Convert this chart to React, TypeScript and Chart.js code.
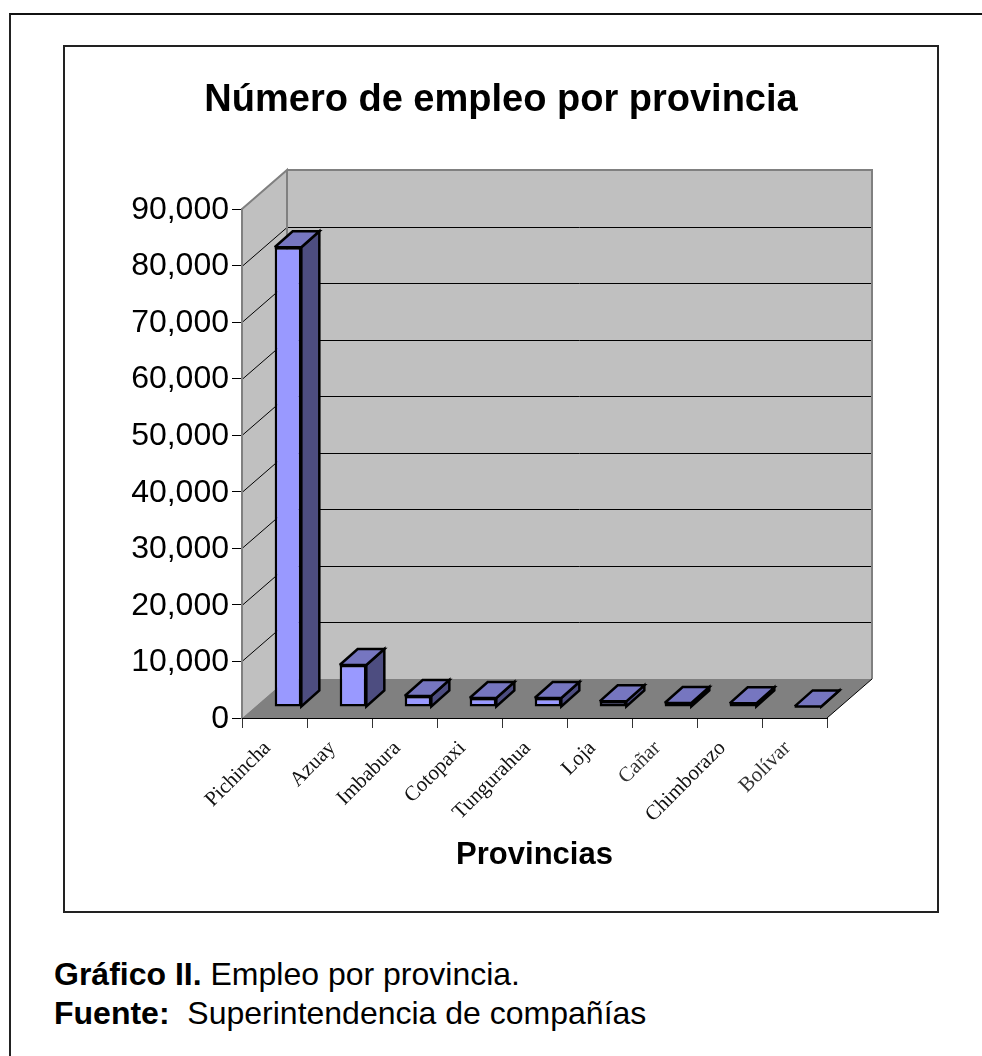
import React, { useEffect, useRef } from "react";
import { Chart, registerables } from "chart.js";

Chart.register(...registerables);

const provinces = ["Pichincha", "Azuay", "Imbabura", "Cotopaxi", "Tungurahua", "Loja", "Cañar", "Chimborazo", "Bolívar"];
const employment = [81300, 7430, 1950, 1600, 1600, 1000, 700, 650, 100];
const labelColors = ["#111", "#111", "#111", "#111", "#111", "#111", "#333", "#111", "#333"];

const chartTitle = "Número de empleo por provincia";
const xTitle = "Provincias";

const SANS = '"Liberation Sans", Arial, sans-serif';
const SERIF = '"Liberation Serif", "Times New Roman", serif';

const wallDepth = { x: 45, y: 39 };
const barShift = { x: 13.5, y: 11 };
const barDepth = { x: 18, y: 16 };

const poly = (ctx: CanvasRenderingContext2D, pts: number[][], fill: string) => {
  ctx.beginPath();
  pts.forEach(([x, y], i) => (i ? ctx.lineTo(x, y) : ctx.moveTo(x, y)));
  ctx.closePath();
  ctx.fillStyle = fill;
  ctx.fill();
};

const line = (ctx: CanvasRenderingContext2D, pts: number[][], color: string, w: number) => {
  ctx.beginPath();
  pts.forEach(([x, y], i) => (i ? ctx.lineTo(x, y) : ctx.moveTo(x, y)));
  ctx.strokeStyle = color;
  ctx.lineWidth = w;
  ctx.stroke();
};

const box3d = {
  id: "box3d",
  beforeDraw(chart: any) {
    const { ctx, chartArea: a, scales } = chart;
    const dx = wallDepth.x;
    const dy = wallDepth.y;
    ctx.save();
    poly(ctx, [[a.left, a.top], [a.left + dx, a.top - dy], [a.left + dx, a.bottom - dy], [a.left, a.bottom]], "#C0C0C0");
    poly(ctx, [[a.left + dx, a.top - dy], [a.right + dx, a.top - dy], [a.right + dx, a.bottom - dy], [a.left + dx, a.bottom - dy]], "#C0C0C0");
    poly(ctx, [[a.left, a.bottom], [a.right, a.bottom], [a.right + dx, a.bottom - dy], [a.left + dx, a.bottom - dy]], "#808080");
    scales.y.ticks.forEach((t: any) => {
      if (t.value === scales.y.min || t.value === scales.y.max) return;
      const y = Math.round(scales.y.getPixelForValue(t.value)) + 0.5;
      line(ctx, [[a.left, y], [a.left + dx, y - dy], [a.right + dx, y - dy]], "#000", 1);
    });
    line(ctx, [[a.left, a.top], [a.left + dx, a.top - dy], [a.left + dx, a.bottom - dy]], "#808080", 2);
    line(ctx, [[a.left + dx, a.top - dy], [a.right + dx, a.top - dy], [a.right + dx, a.bottom - dy]], "#808080", 2);
    line(ctx, [[a.right, a.bottom], [a.right + dx, a.bottom - dy]], "#000", 1);
    ctx.restore();
  },
  beforeDatasetDraw(chart: any, args: any) {
    const { ctx } = chart;
    ctx.save();
    ctx.translate(barShift.x, -barShift.y);
    ctx.lineJoin = "miter";
    args.meta.data.forEach((el: any) => {
      const l = el.x - el.width / 2;
      const r = el.x + el.width / 2;
      const t = el.y;
      const b = el.base;
      const dx = barDepth.x;
      const dy = barDepth.y;
      const side = [[r, t], [r + dx, t - dy], [r + dx, b - dy], [r, b]];
      const top = [[l, t], [l + dx, t - dy], [r + dx, t - dy], [r, t]];
      poly(ctx, side, "#4D4D80");
      line(ctx, [...side, side[0]], "#000", 2.5);
      poly(ctx, top, "#7676C0");
      line(ctx, [...top, top[0]], "#000", 2.5);
    });
  },
  afterDatasetDraw(chart: any) {
    chart.ctx.restore();
  },
};

export default function App() {
  const ref = useRef<HTMLCanvasElement>(null);
  useEffect(() => {
    document.body.style.margin = "0";
    document.documentElement.style.overflow = "hidden";
    const chart = new Chart(ref.current!, {
      type: "bar",
      plugins: [box3d],
      data: {
        labels: provinces,
        datasets: [
          {
            data: employment,
            yAxisID: "y",
            backgroundColor: "#9999FF",
            borderColor: "#000",
            borderWidth: 2.5,
            borderSkipped: false,
            barPercentage: 0.41,
            categoryPercentage: 1,
            clip: false,
          } as any,
        ],
      },
      options: {
        animation: false,
        responsive: false,
        layout: { padding: 0 },
        plugins: {
          legend: { display: false },
          tooltip: { enabled: false },
          title: {
            display: true,
            text: chartTitle,
            color: "#000",
            font: { family: SANS, size: 38, weight: "bold" },
            padding: { top: 33, bottom: 85.4 },
          },
        },
        scales: {
          y: {
            min: 0,
            max: 90000,
            afterFit: (s: any) => {
              s.width = 179;
            },
            border: { color: "#808080", width: 2 },
            grid: { drawOnChartArea: false, drawTicks: true, tickLength: 10, tickColor: "#000" },
            ticks: {
              stepSize: 10000,
              color: "#000",
              padding: 3,
              labelOffset: 1,
              font: { family: SANS, size: 32 },
              callback: (v: any) => Number(v).toLocaleString("en-US"),
            },
          },
          spacer: {
            position: "right",
            min: 0,
            max: 1,
            afterFit: (s: any) => {
              s.width = 112;
            },
            border: { display: false },
            grid: { display: false },
            ticks: { display: false },
          },
          x: {
            afterFit: (s: any) => {
              s.height = 195;
            },
            border: { color: "#000", width: 1 },
            grid: { drawOnChartArea: false, drawTicks: true, tickLength: 10, tickColor: "#333" },
            ticks: {
              autoSkip: false,
              minRotation: 45,
              maxRotation: 45,
              color: (c: any) => labelColors[c.index],
              padding: 8,
              labelOffset: -7,
              font: { family: SERIF, size: 21 },
            },
            title: {
              display: true,
              text: xTitle,
              color: "#000",
              font: { family: SANS, size: 31, weight: "bold" },
              padding: { top: 0, bottom: 39 },
            },
          },
        },
      },
    } as any);
    return () => chart.destroy();
  }, []);

  return (
    <div style={{ fontFamily: SANS }}>
      <div
        style={{
          position: "absolute",
          left: 9,
          top: 13,
          right: 0,
          height: 1043,
          boxSizing: "border-box",
          borderLeft: "2px solid #222",
          borderTop: "2px solid #111",
        }}
      />
      <canvas
        ref={ref}
        width={876}
        height={868}
        style={{ position: "absolute", left: 63, top: 45, width: 876, height: 868 }}
      />
      <div
        style={{
          position: "absolute",
          left: 63,
          top: 45,
          width: 876,
          height: 868,
          boxSizing: "border-box",
          border: "2px solid #222",
        }}
      />
      <div
        style={{
          position: "absolute",
          left: 54,
          top: 955,
          fontSize: 32,
          lineHeight: "39px",
          color: "#000",
          whiteSpace: "pre",
        }}
      >
        <div>
          <b>Gráfico II.</b> Empleo por provincia.
        </div>
        <div>
          <b>Fuente:</b>
          {"  Superintendencia de compañías"}
        </div>
      </div>
    </div>
  );
}
